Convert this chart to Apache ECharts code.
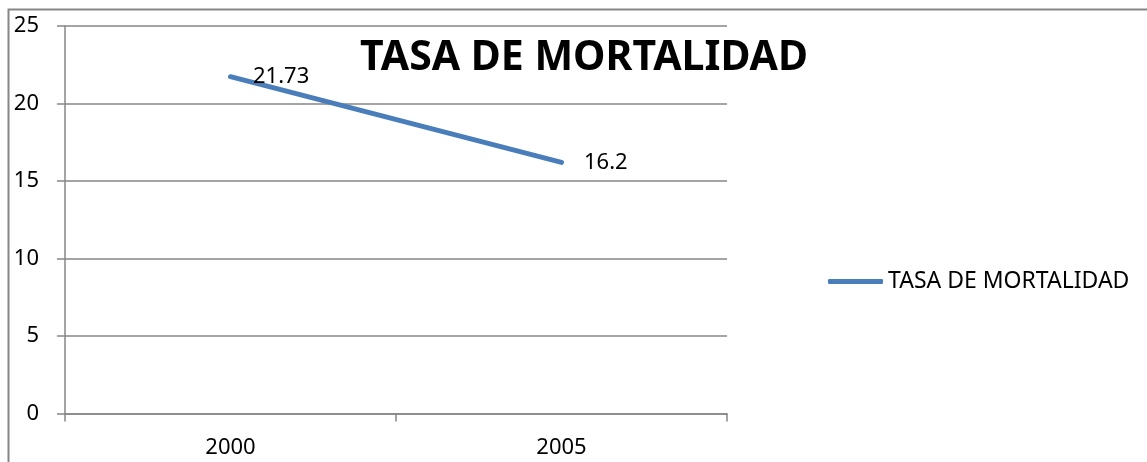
<!DOCTYPE html>
<html>
<head>
<meta charset="utf-8">
<script src="https://cdn.jsdelivr.net/npm/echarts@6/dist/echarts.min.js"></script>
<style>
html,body{margin:0;padding:0;background:#fff;}
#chart{width:1147px;height:462px;}
</style>
</head>
<body>
<div id="chart"></div>
<script>
var categories = ['2000', '2005'];
var seriesName = 'TASA DE MORTALIDAD';
var values = [21.73, 16.2];
var yMin = 0, yMax = 25, yInterval = 5;

var chart = echarts.init(document.getElementById('chart'));
var font = 'Noto Sans';
chart.setOption({
  animation: false,
  backgroundColor: '#fff',
  title: {
    text: seriesName,
    left: 584, top: 38, textAlign: 'center', padding: 0,
    textStyle: {fontFamily: font, fontWeight: 'bold', fontSize: 41, color: '#000'}
  },
  legend: {
    data: [seriesName],
    left: 828, top: 270, padding: 0,
    icon: 'roundRect',
    itemWidth: 55, itemHeight: 5, itemGap: 5,
    textStyle: {fontFamily: font, fontSize: 23, color: '#000', padding: [0,0,0,0]}
  },
  grid: {left: 65, top: 26, right: 420, bottom: 48.5, containLabel: false},
  xAxis: {
    type: 'category', data: categories, boundaryGap: true,
    axisLine: {lineStyle: {color: '#868686', width: 1.5}},
    axisTick: {show: true, length: 8, lineStyle: {color: '#868686', width: 1.5}},
    axisLabel: {margin: 23, fontFamily: font, fontSize: 22, color: '#000'},
    splitLine: {show: false}
  },
  yAxis: {
    type: 'value', min: yMin, max: yMax, interval: yInterval,
    axisLine: {show: true, lineStyle: {color: '#868686', width: 1.5}},
    axisTick: {show: true, length: 8, lineStyle: {color: '#868686', width: 1.5}},
    axisLabel: {margin: 26, fontFamily: font, fontSize: 22, color: '#000'},
    splitLine: {show: true, lineStyle: {color: '#868686', width: 1.5}}
  },
  graphic: [{
    type: 'rect', silent: true,
    shape: {x: 8.5, y: 9.5, width: 1145, height: 470},
    style: {fill: null, stroke: '#868686', lineWidth: 2}
  }],
  series: [{
    name: seriesName, type: 'line', data: values,
    symbol: 'circle', symbolSize: 1, showSymbol: true,
    lineStyle: {color: '#4A7EBB', width: 5, cap: 'round'},
    itemStyle: {color: '#4A7EBB'},
    label: {show: true, position: 'right', distance: 22, fontFamily: font, fontSize: 22, color: '#000'}
  }]
});
</script>
</body>
</html>
